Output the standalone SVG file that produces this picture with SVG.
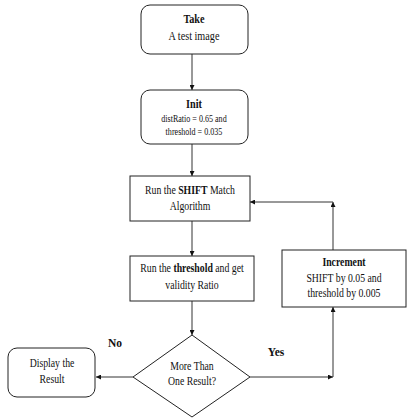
<svg xmlns="http://www.w3.org/2000/svg" width="410" height="418" viewBox="0 0 410 418">
<style>
.box{fill:#fff;stroke:#222;stroke-width:1}
.ln{fill:none;stroke:#333;stroke-width:1}
text{font-family:"Liberation Serif","Times New Roman",serif;fill:#111;text-anchor:middle}
.t{font-size:11.5px}
.b{font-weight:bold}
.s{font-size:9.5px}
</style>
<defs>
<marker id="ah" viewBox="0 0 10 10" refX="10" refY="5" markerWidth="5" markerHeight="5" orient="auto" markerUnits="userSpaceOnUse">
<path d="M0,0 L10,5 L0,10 z" fill="#111"/>
</marker>
</defs>
<rect width="410" height="418" fill="#fff"/>
<g id="connectors">
<line class="ln" x1="192" y1="54" x2="192" y2="90" marker-end="url(#ah)"/>
<line class="ln" x1="192" y1="144" x2="192" y2="176" marker-end="url(#ah)"/>
<line class="ln" x1="192" y1="221" x2="192" y2="256" marker-end="url(#ah)"/>
<line class="ln" x1="192" y1="301" x2="192" y2="335" marker-end="url(#ah)"/>
<line class="ln" x1="133" y1="377" x2="96" y2="377" marker-end="url(#ah)"/>
<line class="ln" x1="250" y1="377" x2="333" y2="377" marker-end="url(#ah)"/>
<line class="ln" x1="333" y1="377" x2="333" y2="307" marker-end="url(#ah)"/>
<line class="ln" x1="333" y1="250" x2="333" y2="202" marker-end="url(#ah)"/>
<line class="ln" x1="333" y1="202" x2="250" y2="202" marker-end="url(#ah)"/>
<text class="t b" x="115" y="347">No</text>
<text class="t b" x="276" y="356">Yes</text>
</g>
<g id="take">
<rect class="box" x="141" y="5" width="107" height="49" rx="9"/>
<g transform="scale(0.85 1)">
<text class="t b" x="228.2" y="23" style="font-size:12px">Take</text>
<text class="t" x="228.2" y="40" style="font-size:12px">A test image</text>
</g>
</g>
<g id="init">
<rect class="box" x="141" y="90" width="107" height="54" rx="9"/>
<g transform="scale(0.85 1)">
<text class="t b" x="228.2" y="108" style="font-size:12px">Init</text>
<text class="s" x="228.2" y="122">distRatio = 0.65 and</text>
<text class="s" x="228.2" y="135">threshold = 0.035</text>
</g>
</g>
<g id="shift">
<rect class="box" x="130" y="176" width="120" height="45"/>
<g transform="scale(0.85 1)">
<text class="t" x="223.5" y="194">Run the <tspan class="b">SHIFT</tspan> Match</text>
<text class="t" x="223.5" y="210">Algorithm</text>
</g>
</g>
<g id="threshold">
<rect class="box" x="130" y="256" width="124" height="45"/>
<g transform="scale(0.85 1)">
<text class="t" x="225.9" y="272">Run the <tspan class="b">threshold</tspan> and get</text>
<text class="t" x="225.9" y="289">validity Ratio</text>
</g>
</g>
<g id="decision">
<polygon class="box" points="192,335 250,377 192,417 133,377"/>
<g transform="scale(0.85 1)">
<text class="t" x="225.9" y="370">More Than</text>
<text class="t" x="225.9" y="385">One Result?</text>
</g>
</g>
<g id="display">
<rect class="box" x="8" y="348" width="87" height="49" rx="9"/>
<g transform="scale(0.85 1)">
<text class="t" x="61.2" y="367">Display the</text>
<text class="t" x="61.2" y="383">Result</text>
</g>
</g>
<g id="increment">
<rect class="box" x="282" y="250" width="124" height="57"/>
<g transform="scale(0.85 1)">
<text class="t b" x="404.7" y="266">Increment</text>
<text class="t" x="404.7" y="282">SHIFT  by 0.05 and</text>
<text class="t" x="404.7" y="297">threshold  by 0.005</text>
</g>
</g>
</svg>
